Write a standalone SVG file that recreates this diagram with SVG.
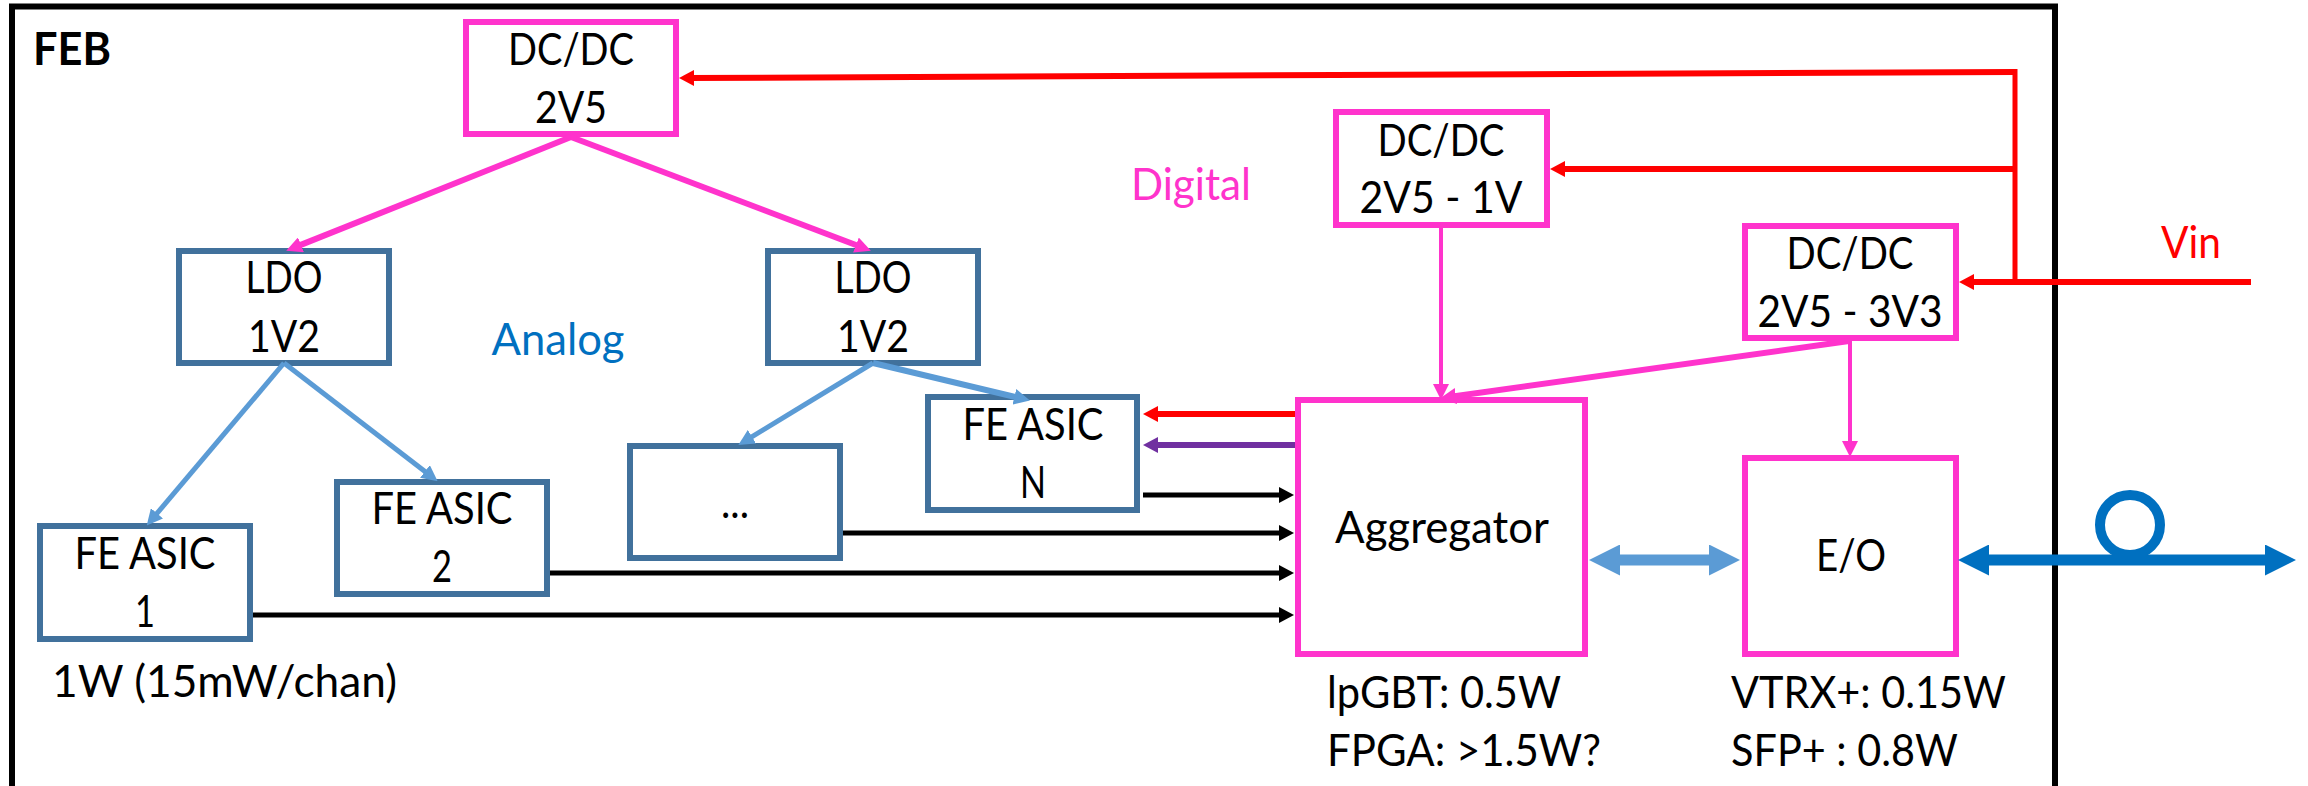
<svg xmlns="http://www.w3.org/2000/svg" width="2308" height="786" viewBox="0 0 2308 786">
<style>
text{font-family:"Lato","Carlito","Liberation Sans",sans-serif;font-size:45px;fill:#000;text-anchor:middle}
.s{text-anchor:start}
.box{fill:#fff;stroke-width:6}
.m{stroke:#FF33CC}
.b{stroke:#41719C}
.c{fill:none}
</style>
<defs>
<marker id="hk" markerUnits="userSpaceOnUse" markerWidth="15" markerHeight="16" refX="7" refY="8" orient="auto"><path d="M0 0L15 8L0 16Z" fill="#000"/></marker>
<marker id="hr" markerUnits="userSpaceOnUse" markerWidth="15" markerHeight="16" refX="7" refY="8" orient="auto"><path d="M0 0L15 8L0 16Z" fill="#F00"/></marker>
<marker id="hp" markerUnits="userSpaceOnUse" markerWidth="15" markerHeight="16" refX="7" refY="8" orient="auto"><path d="M0 0L15 8L0 16Z" fill="#7030A0"/></marker>
<marker id="hm" markerUnits="userSpaceOnUse" markerWidth="16" markerHeight="16" refX="7" refY="8" orient="auto"><path d="M0 0L16 8L0 16Z" fill="#FF33CC"/></marker>
<marker id="hb" markerUnits="userSpaceOnUse" markerWidth="16" markerHeight="16" refX="7" refY="8" orient="auto"><path d="M0 0L16 8L0 16Z" fill="#5B9BD5"/></marker>
<marker id="hl" markerUnits="userSpaceOnUse" markerWidth="31" markerHeight="31" refX="15" refY="15.5" orient="auto-start-reverse"><path d="M0 0L31 15.5L0 31Z" fill="#5B9BD5"/></marker>
<marker id="hd" markerUnits="userSpaceOnUse" markerWidth="31" markerHeight="31" refX="15" refY="15.5" orient="auto-start-reverse"><path d="M0 0L31 15.5L0 31Z" fill="#0070C0"/></marker>
</defs>
<rect width="2308" height="786" fill="#fff"/>
<g id="frame">
<path d="M12 786V6.5H2055V786" fill="none" stroke="#000" stroke-width="6"/>
<text class="s" x="33" y="65" style="font-weight:700" textLength="78" lengthAdjust="spacingAndGlyphs">FEB</text>
<text x="558" y="355" style="fill:#0070C0" textLength="133" lengthAdjust="spacingAndGlyphs">Analog</text>
<text x="1191" y="200" style="fill:#FF33CC" textLength="120" lengthAdjust="spacingAndGlyphs">Digital</text>
<text x="2191" y="258" style="fill:#F00" textLength="60" lengthAdjust="spacingAndGlyphs">Vin</text>
<text class="s" x="52" y="697" textLength="345" lengthAdjust="spacingAndGlyphs">1W (15mW/chan)</text>
<text class="s" x="1327" y="708" textLength="234" lengthAdjust="spacingAndGlyphs">lpGBT: 0.5W</text>
<text class="s" x="1327" y="766" textLength="274" lengthAdjust="spacingAndGlyphs">FPGA: &gt;1.5W?</text>
<text class="s" x="1731" y="708" textLength="275" lengthAdjust="spacingAndGlyphs">VTRX+: 0.15W</text>
<text class="s" x="1731" y="766" textLength="227" lengthAdjust="spacingAndGlyphs">SFP+ : 0.8W</text>
</g>
<g id="dcdc-2v5"><rect class="box m" x="466" y="22" width="210" height="112"/>
<text x="571" y="65" textLength="126" lengthAdjust="spacingAndGlyphs">DC/DC</text><text x="571" y="123" textLength="72" lengthAdjust="spacingAndGlyphs">2V5</text></g>
<g id="dcdc-1v"><rect class="box m" x="1336" y="112" width="211" height="113"/>
<text x="1441" y="156" textLength="127" lengthAdjust="spacingAndGlyphs">DC/DC</text><text x="1441" y="213" textLength="163" lengthAdjust="spacingAndGlyphs">2V5 - 1V</text></g>
<g id="dcdc-3v3"><rect class="box m" x="1745" y="226" width="211" height="112"/>
<text x="1850" y="269" textLength="127" lengthAdjust="spacingAndGlyphs">DC/DC</text><text x="1850" y="327" textLength="185" lengthAdjust="spacingAndGlyphs">2V5 - 3V3</text></g>
<g id="ldo-1"><rect class="box b" x="179" y="251" width="210" height="112"/>
<text x="284" y="293" textLength="77" lengthAdjust="spacingAndGlyphs">LDO</text><text x="284" y="352" textLength="72" lengthAdjust="spacingAndGlyphs">1V2</text></g>
<g id="ldo-2"><rect class="box b" x="768" y="251" width="210" height="112"/>
<text x="873" y="293" textLength="77" lengthAdjust="spacingAndGlyphs">LDO</text><text x="873" y="352" textLength="72" lengthAdjust="spacingAndGlyphs">1V2</text></g>
<g id="fe-asic-1"><rect class="box b" x="40" y="526" width="210" height="113"/>
<text x="145" y="569" textLength="141" lengthAdjust="spacingAndGlyphs">FE ASIC</text><text x="145" y="627" textLength="20" lengthAdjust="spacingAndGlyphs">1</text></g>
<g id="fe-asic-2"><rect class="box b" x="337" y="482" width="210" height="112"/>
<text x="442" y="524" textLength="141" lengthAdjust="spacingAndGlyphs">FE ASIC</text><text x="442" y="582" textLength="20" lengthAdjust="spacingAndGlyphs">2</text></g>
<g id="fe-asic-dots"><rect class="box b" x="630" y="446" width="210" height="112"/>
<text x="735" y="518" textLength="28" lengthAdjust="spacingAndGlyphs">...</text></g>
<g id="fe-asic-n"><rect class="box b" x="928" y="397" width="209" height="113"/>
<text x="1033" y="440" textLength="141" lengthAdjust="spacingAndGlyphs">FE ASIC</text><text x="1033" y="498" textLength="26" lengthAdjust="spacingAndGlyphs">N</text></g>
<g id="aggregator"><rect class="box m" x="1298" y="400" width="287" height="254"/>
<text x="1442" y="543" textLength="214" lengthAdjust="spacingAndGlyphs">Aggregator</text></g>
<g id="eo"><rect class="box m" x="1745" y="458" width="211" height="196"/>
<text x="1851" y="571" textLength="70" lengthAdjust="spacingAndGlyphs">E/O</text></g>
<g id="connectors" class="c">
<g stroke="#F00" stroke-width="6">
<path d="M2015 72L687 78" marker-end="url(#hr)"/>
<path d="M2015 169H1558" marker-end="url(#hr)"/>
<path d="M2251 282H1967" marker-end="url(#hr)"/>
<path d="M2015 69V282" stroke-width="5"/>
<path d="M1295 414H1151" marker-end="url(#hr)"/>
</g>
<path d="M1295 445H1151" stroke="#7030A0" stroke-width="6" marker-end="url(#hp)"/>
<g stroke="#FF33CC" stroke-width="6">
<path d="M571 137L294.5 247.4" marker-end="url(#hm)"/>
<path d="M571 137L862.5 247.5" marker-end="url(#hm)"/>
<path d="M1441 228V391" stroke-width="4" marker-end="url(#hm)"/>
<path d="M1850 341V448" stroke-width="4" marker-end="url(#hm)"/>
<path d="M1849 341L1449 397" stroke-width="6" marker-end="url(#hm)"/>
</g>
<g stroke="#5B9BD5" stroke-width="5">
<path d="M284 363L152.5 518.7" marker-end="url(#hb)"/>
<path d="M284 363L430.5 475.7" marker-end="url(#hb)"/>
<path d="M873 363L746 440.4" marker-end="url(#hb)"/>
<path d="M873 363L1021.2 398.4" stroke-width="6" marker-end="url(#hb)"/>
</g>
<g stroke="#000" stroke-width="5">
<path d="M1143 495H1286" marker-end="url(#hk)"/>
<path d="M843 533H1286" marker-end="url(#hk)"/>
<path d="M550 573H1286" marker-end="url(#hk)"/>
<path d="M253 615H1286" marker-end="url(#hk)"/>
</g>
<path d="M1605 560H1724" stroke="#5B9BD5" stroke-width="11" marker-start="url(#hl)" marker-end="url(#hl)"/>
<circle cx="2130" cy="525" r="30" stroke="#0070C0" stroke-width="10"/>
<path d="M1974 560H2280" stroke="#0070C0" stroke-width="11" marker-start="url(#hd)" marker-end="url(#hd)"/>
</g>
</svg>
